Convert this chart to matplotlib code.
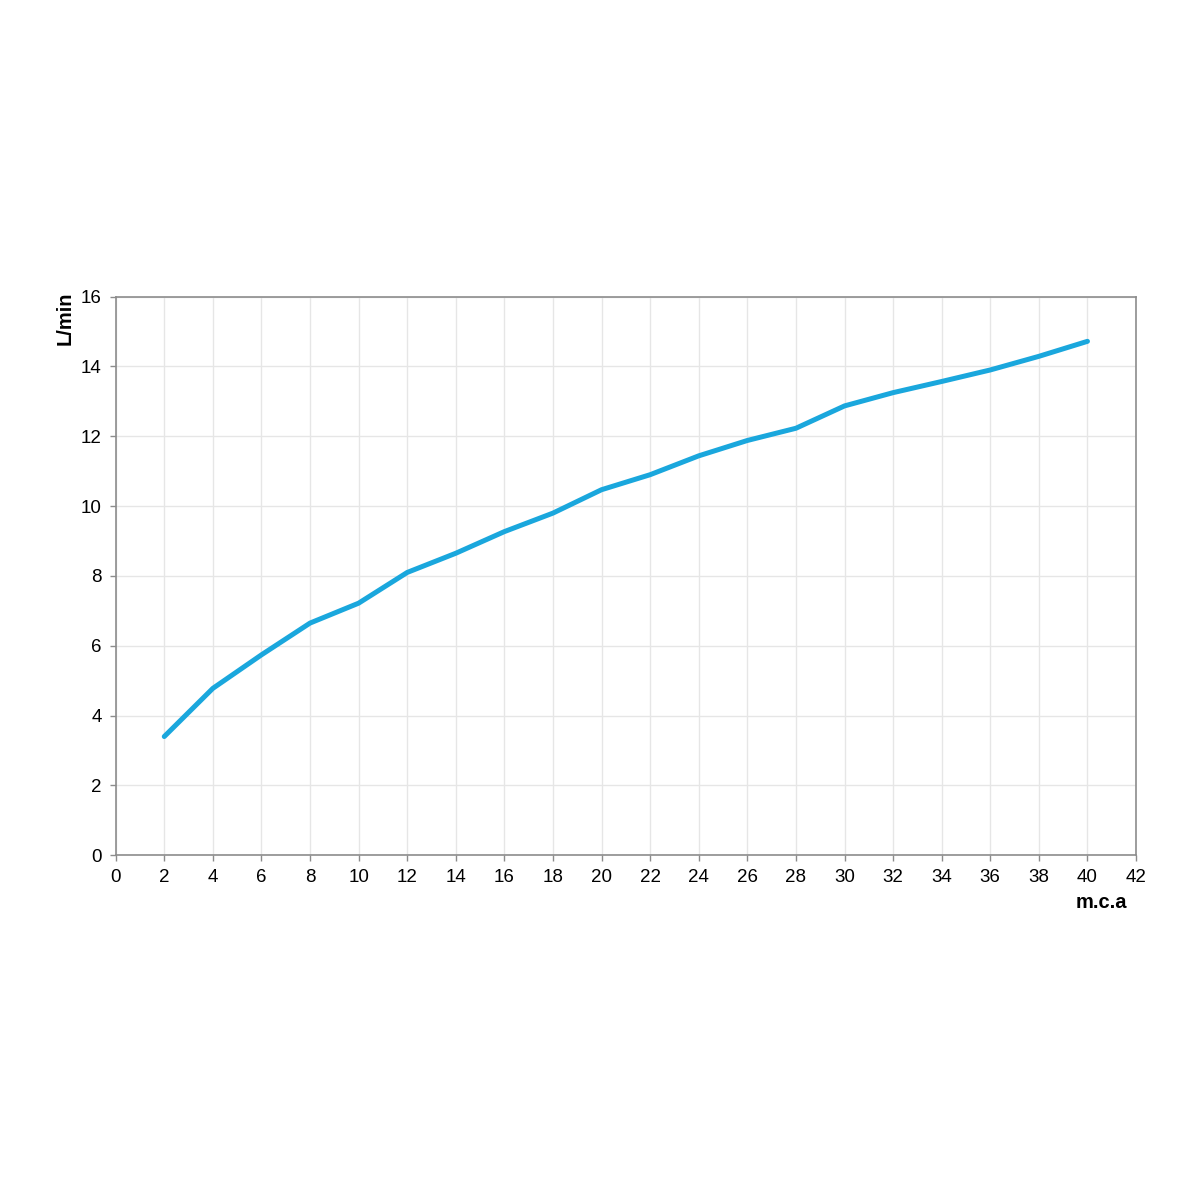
import matplotlib
matplotlib.use("Agg")
import matplotlib.pyplot as plt

# Débit (L/min) en fonction de la pression (m.c.a)
pression = [2, 4, 6, 8, 10, 12, 14, 16, 18, 20, 22, 24, 26, 28, 30, 32, 34, 36, 38, 40]
debit = [3.40, 4.78, 5.74, 6.65, 7.22, 8.10, 8.65, 9.27, 9.80, 10.47,
         10.90, 11.44, 11.88, 12.23, 12.87, 13.25, 13.57, 13.90, 14.29, 14.72]

x_ticks = list(range(0, 43, 2))
y_ticks = list(range(0, 17, 2))

line_color = '#1aa7dd'
axis_color = '#8c8c8c'
grid_color = '#e6e6e6'
tick_size = 13.5
label_size = 14.5

plt.rcParams['font.family'] = ['Liberation Sans', 'DejaVu Sans']

fig = plt.figure(figsize=(12, 12), dpi=100)
ax = fig.add_axes([0.0964, 0.2873, 0.8503, 0.4655])

ax.plot(pression, debit, color=line_color, linewidth=3.6,
        solid_capstyle='round', solid_joinstyle='round', zorder=3)

ax.set_xlim(0, 42)
ax.set_ylim(0, 16)
ax.set_xticks(x_ticks)
ax.set_yticks(y_ticks)
ax.grid(True, color=grid_color, linewidth=1.0, zorder=0)
ax.set_axisbelow(True)

for side in ['left', 'bottom', 'top', 'right']:
    ax.spines[side].set_color(axis_color)
    ax.spines[side].set_linewidth(1.2)

ax.tick_params(axis='both', direction='out', length=4, width=1,
               color=axis_color, labelsize=tick_size, labelcolor='black')
ax.tick_params(axis='x', pad=6)
ax.tick_params(axis='y', pad=6)

# Titres des axes
fig.text(0.054, 0.757, 'L/min', rotation=90, ha='center', va='top',
         fontsize=label_size, fontweight='bold')
fig.text(0.918, 0.248, 'm.c.a', ha='center', va='center',
         fontsize=label_size, fontweight='bold')

fig.savefig('out.png', dpi=100, facecolor='white')
